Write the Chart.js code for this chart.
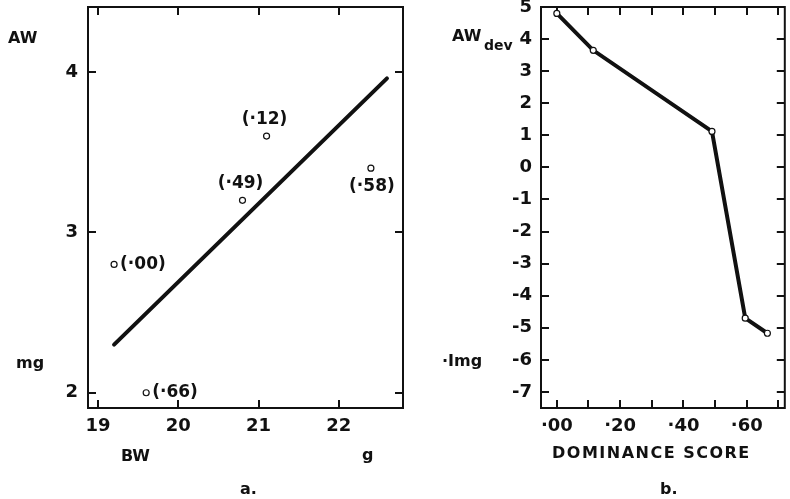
<!DOCTYPE html>
<html>
<head>
<meta charset="utf-8">
<script src="https://cdn.jsdelivr.net/npm/chart.js@4.4.0/dist/chart.umd.min.js"></script>
<style>
    body { margin: 0; background: #fff; width: 790px; height: 499px; overflow: hidden; position: relative; font-family: 'DejaVu Sans', sans-serif; color: #111; }
    canvas { position: absolute; top: 0; }
    #chartA { left: 0; }
    #chartB { left: 420px; }
    .lbl { position: absolute; font-weight: bold; font-size: 16px; line-height: 1; white-space: nowrap; }
</style>
</head>
<body>
<canvas id="chartA" width="420" height="499"></canvas>
<canvas id="chartB" width="370" height="499"></canvas>

<div class="lbl" style="left:8px; top:30px;">AW</div>
<div class="lbl" style="left:16px; top:355px;">mg</div>
<div class="lbl" style="left:121px; top:448px;">BW</div>
<div class="lbl" style="left:362px; top:447px;">g</div>
<div class="lbl" style="left:240px; top:481px;">a.</div>

<div class="lbl" style="left:452px; top:28px;">AW</div>
<div class="lbl" style="left:484px; top:38px; font-size:14px;">dev</div>
<div class="lbl" style="left:442px; top:353px;">·Img</div>
<div class="lbl" style="left:552px; top:445px; letter-spacing:1.5px;">DOMINANCE SCORE</div>
<div class="lbl" style="left:660px; top:481px;">b.</div>

<script>
// Panel a: adrenal weight vs body weight
const bwTicks = [19, 20, 21, 22];
const awTicks = [2, 3, 4];
const bodyWeight = [19.2, 19.6, 20.8, 21.1, 22.4];
const adrenalWeight = [2.8, 2.0, 3.2, 3.6, 3.4];
const scoreLabels = ['(·00)', '(·66)', '(·49)', '(·12)', '(·58)'];
const fitBw = [19.2, 22.6];
const fitAw = [2.3, 3.96];

// Panel b: adrenal weight deviation vs dominance score
const domScore = [0, 0.115, 0.49, 0.595, 0.665];
const awDev = [4.8, 3.65, 1.12, -4.7, -5.17];
const domTicks = [0, 0.1, 0.2, 0.3, 0.4, 0.5, 0.6, 0.7];
const domTickText = ['·00', '', '·20', '', '·40', '', '·60', ''];
const devTicks = [5, 4, 3, 2, 1, 0, -1, -2, -3, -4, -5, -6, -7];

// where each score label sits relative to its point
const labelPlace = ['right', 'right', 'above', 'above', 'below'];

const INK = '#111';
const tickFont = { family: "'DejaVu Sans', sans-serif", size: 18, weight: 'bold' };

// Box border + inward tick marks on all four sides
const frameTicks = {
    id: 'frameTicks',
    beforeDatasetsDraw(chart) {
        const { ctx, chartArea: a, scales } = chart;
        const len = 8;
        ctx.save();
        ctx.strokeStyle = INK;
        ctx.lineWidth = 2;
        ctx.strokeRect(a.left, a.top, a.right - a.left, a.bottom - a.top);
        ctx.beginPath();
        scales.x.ticks.forEach(t => {
            const px = Math.round(scales.x.getPixelForValue(t.value));
            ctx.moveTo(px, a.bottom); ctx.lineTo(px, a.bottom - len);
            ctx.moveTo(px, a.top); ctx.lineTo(px, a.top + len);
        });
        scales.y.ticks.forEach(t => {
            const py = Math.round(scales.y.getPixelForValue(t.value));
            ctx.moveTo(a.left, py); ctx.lineTo(a.left + len, py);
            ctx.moveTo(a.right, py); ctx.lineTo(a.right - len, py);
        });
        ctx.stroke();
        ctx.restore();
    }
};

// Dominance score labels beside the scatter points
const scoreText = {
    id: 'scoreText',
    afterDatasetsDraw(chart) {
        const meta = chart.getDatasetMeta(1);
        const { ctx } = chart;
        ctx.save();
        ctx.fillStyle = INK;
        ctx.font = "bold 17px 'DejaVu Sans', sans-serif";
        ctx.textBaseline = 'middle';
        meta.data.forEach((pt, i) => {
            const place = labelPlace[i];
            if (place === 'right') {
                ctx.textAlign = 'left';
                ctx.fillText(scoreLabels[i], pt.x + 6, pt.y);
            } else if (place === 'above') {
                ctx.textAlign = 'center';
                ctx.fillText(scoreLabels[i], pt.x - 2, pt.y - 17);
            } else {
                ctx.textAlign = 'center';
                ctx.fillText(scoreLabels[i], pt.x + 1, pt.y + 18);
            }
        });
        ctx.restore();
    }
};

function fixedAxis(size, vertical) {
    return s => {
        if (vertical) { s.width = size; s.paddingTop = 0; s.paddingBottom = 0; }
        else { s.height = size; s.paddingLeft = 0; s.paddingRight = 0; }
    };
}

new Chart(document.getElementById('chartA'), {
    type: 'scatter',
    data: {
        datasets: [{
            type: 'line',
            data: fitBw.map((x, i) => ({ x: x, y: fitAw[i] })),
            borderColor: INK,
            borderWidth: 4,
            borderCapStyle: 'round',
            pointRadius: 0
        }, {
            data: bodyWeight.map((x, i) => ({ x: x, y: adrenalWeight[i] })),
            pointRadius: 3,
            borderWidth: 1.2,
            borderColor: INK,
            backgroundColor: '#fff'
        }]
    },
    options: {
        responsive: false,
        animation: false,
        layout: { padding: { top: 7, right: 17, left: 0, bottom: 0 } },
        plugins: { legend: { display: false }, tooltip: { enabled: false } },
        scales: {
            x: {
                type: 'linear', min: 18.875, max: 22.8,
                grid: { display: false, drawTicks: false }, border: { display: false },
                afterBuildTicks: s => { s.ticks = bwTicks.map(v => ({ value: v })); },
                ticks: { color: INK, font: tickFont, padding: 8, maxRotation: 0, callback: v => String(v) },
                afterFit: fixedAxis(91, false)
            },
            y: {
                type: 'linear', min: 1.905, max: 4.405,
                grid: { display: false, drawTicks: false }, border: { display: false },
                afterBuildTicks: s => { s.ticks = awTicks.map(v => ({ value: v })); },
                ticks: { color: INK, font: tickFont, padding: 10, callback: v => String(v) },
                afterFit: fixedAxis(88, true)
            }
        }
    },
    plugins: [frameTicks, scoreText]
});

new Chart(document.getElementById('chartB'), {
    type: 'line',
    data: {
        datasets: [{
            data: domScore.map((x, i) => ({ x: x, y: awDev[i] })),
            borderColor: INK,
            borderWidth: 4,
            tension: 0,
            pointRadius: 3,
            pointBorderWidth: 1.2,
            pointBorderColor: INK,
            pointBackgroundColor: '#fff'
        }]
    },
    options: {
        responsive: false,
        animation: false,
        layout: { padding: { top: 7, right: 1, left: 0, bottom: 0 } },
        plugins: { legend: { display: false }, tooltip: { enabled: false } },
        scales: {
            x: {
                type: 'linear', min: -0.05, max: 0.72,
                grid: { display: false, drawTicks: false }, border: { display: false },
                afterBuildTicks: s => { s.ticks = domTicks.map(v => ({ value: v })); },
                ticks: { color: INK, font: tickFont, padding: 8, maxRotation: 0, autoSkip: false,
                         callback: (v, i) => domTickText[i] },
                afterFit: fixedAxis(91, false)
            },
            y: {
                type: 'linear', min: -7.5, max: 5,
                grid: { display: false, drawTicks: false }, border: { display: false },
                afterBuildTicks: s => { s.ticks = devTicks.map(v => ({ value: v })); },
                ticks: { color: INK, font: tickFont, padding: 9, autoSkip: false, callback: v => String(v) },
                afterFit: fixedAxis(121, true)
            }
        }
    },
    plugins: [frameTicks]
});
</script>
</body>
</html>
